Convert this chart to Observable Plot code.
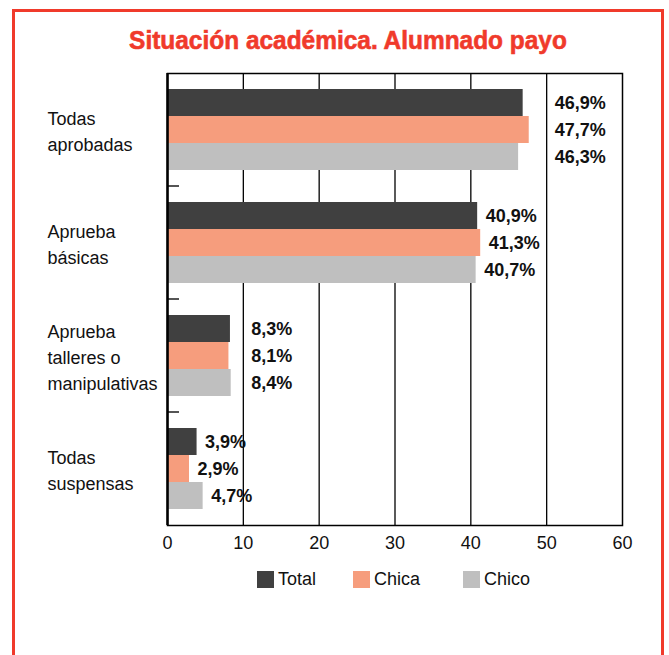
<!DOCTYPE html>
<html>
<head>
<meta charset="utf-8">
<script src="https://cdn.jsdelivr.net/npm/d3@7"></script>
<script src="https://cdn.jsdelivr.net/npm/@observablehq/plot@0.6"></script>
<style>
  html, body { margin: 0; padding: 0; background: #fff; overflow: hidden; }
  body { width: 669px; height: 655px; position: relative; font-family: "Liberation Sans", Arial, sans-serif; }
  #border { position: absolute; left: 12px; top: 9px; width: 646px; height: 700px; border: 3px solid #f03a2b; }
  #title { position: absolute; left: 0; top: 25px; width: 696px; text-align: center; font-size: 26px; line-height: 30px; font-weight: bold; color: #f03a2b; white-space: nowrap; transform: scaleX(0.94); transform-origin: 348px 0; -webkit-text-stroke: 0.6px #f03a2b; }
  #chart { position: absolute; left: 0; top: 0; }
  #legend { position: absolute; left: 257px; top: 569px; display: flex; align-items: center; font-size: 18px; color: #111; }
  .item { display: flex; align-items: center; gap: 4px; }
  .item:nth-child(1) { width: 96px; }
  .item:nth-child(2) { width: 110px; }
  .sw { width: 17px; height: 17px; display: inline-block; }
</style>
</head>
<body>
<div id="border"></div>
<div id="title">Situación académica. Alumnado payo</div>
<div id="chart"></div>
<div id="legend"></div>
<script>
const categories = ["Todas\naprobadas", "Aprueba\nbásicas", "Aprueba\ntalleres o\nmanipulativas", "Todas\nsuspensas"];
const series = ["Total", "Chica", "Chico"];
const totalValues = [46.9, 40.9, 8.3, 3.9];
const chicaValues = [47.7, 41.3, 8.1, 2.9];
const chicoValues = [46.3, 40.7, 8.4, 4.7];
const xTicks = [0, 10, 20, 30, 40, 50, 60];
const colors = ["#404040", "#f69d7d", "#bfbfbf"];

const W = 669, H = 560, ML = 167, MR = 47, MT = 73, MB = 35;
const plotW = W - ML - MR;
const bandH = (H - MT - MB) / categories.length;
const barH = 27;
const pxPerUnit = plotW / (xTicks[xTicks.length - 1] - xTicks[0]);

const seriesValues = [totalValues, chicaValues, chicoValues];
const rows = [];
categories.forEach((cat, ci) => {
  series.forEach((s, si) => {
    rows.push({cat, series: s, si, value: seriesValues[si][ci]});
  });
});

function groupMax(cat) {
  return d3.max(rows.filter(r => r.cat === cat), r => r.value);
}
// label anchor: own value, unless the group's longest bar nearly touches the next gridline
function labelX(d) {
  const m = groupMax(d.cat);
  const g = Math.ceil(m / 10) * 10;
  if ((g - m) * pxPerUnit < 20) return g;
  return d.value;
}
const fmt = v => v.toFixed(1).replace(".", ",") + "%";

const marks = [];
marks.push(Plot.ruleX(xTicks.slice(1, -1), {stroke: "#000", strokeWidth: 1.3}));
series.forEach((s, si) => {
  const off = (si - 1) * barH;
  const inset = (bandH - barH) / 2;
  marks.push(Plot.barX(rows.filter(r => r.si === si), {
    x: "value", y: "cat", fill: colors[si], insetTop: inset, insetBottom: inset, dy: off
  }));
  marks.push(Plot.text(rows.filter(r => r.si === si), {
    x: labelX, y: "cat", dy: off, dx: 8, text: d => fmt(d.value),
    textAnchor: "start", fontSize: 18, fontWeight: "bold", fill: "#111"
  }));
});
// small ticks at group boundaries
marks.push(Plot.barX(categories.slice(0, -1), {
  x1: 0, x2: 60, y: d => d, insetTop: bandH - 2, insetLeft: 1, insetRight: plotW - 12, dy: 1, fill: "#555"
}));
marks.push(Plot.frame({stroke: "#000", strokeWidth: 1.5}));
marks.push(Plot.ruleX([0], {stroke: "#000", strokeWidth: 2.5}));
marks.push(Plot.text(categories, {
  y: d => d, text: d => d, frameAnchor: "left", textAnchor: "start", dx: -120,
  fontSize: 18, lineHeight: 1.44, fill: "#111"
}));

const chart = Plot.plot({
  width: W, height: H,
  marginLeft: ML, marginRight: MR, marginTop: MT, marginBottom: MB,
  style: {background: "none", fontSize: "18px", fontFamily: "Liberation Sans, Arial, sans-serif", color: "#111", overflow: "visible"},
  x: {domain: [0, 60], ticks: xTicks, tickSize: 0, tickPadding: 11, label: null},
  y: {domain: categories, padding: 0, axis: null},
  marks
});
document.getElementById("chart").appendChild(chart);

const legend = document.getElementById("legend");
series.forEach((s, i) => {
  const item = document.createElement("div");
  item.className = "item";
  const sw = document.createElement("span");
  sw.className = "sw";
  sw.style.background = colors[i];
  const t = document.createElement("span");
  t.textContent = s;
  item.appendChild(sw);
  item.appendChild(t);
  legend.appendChild(item);
});
</script>
</body>
</html>
